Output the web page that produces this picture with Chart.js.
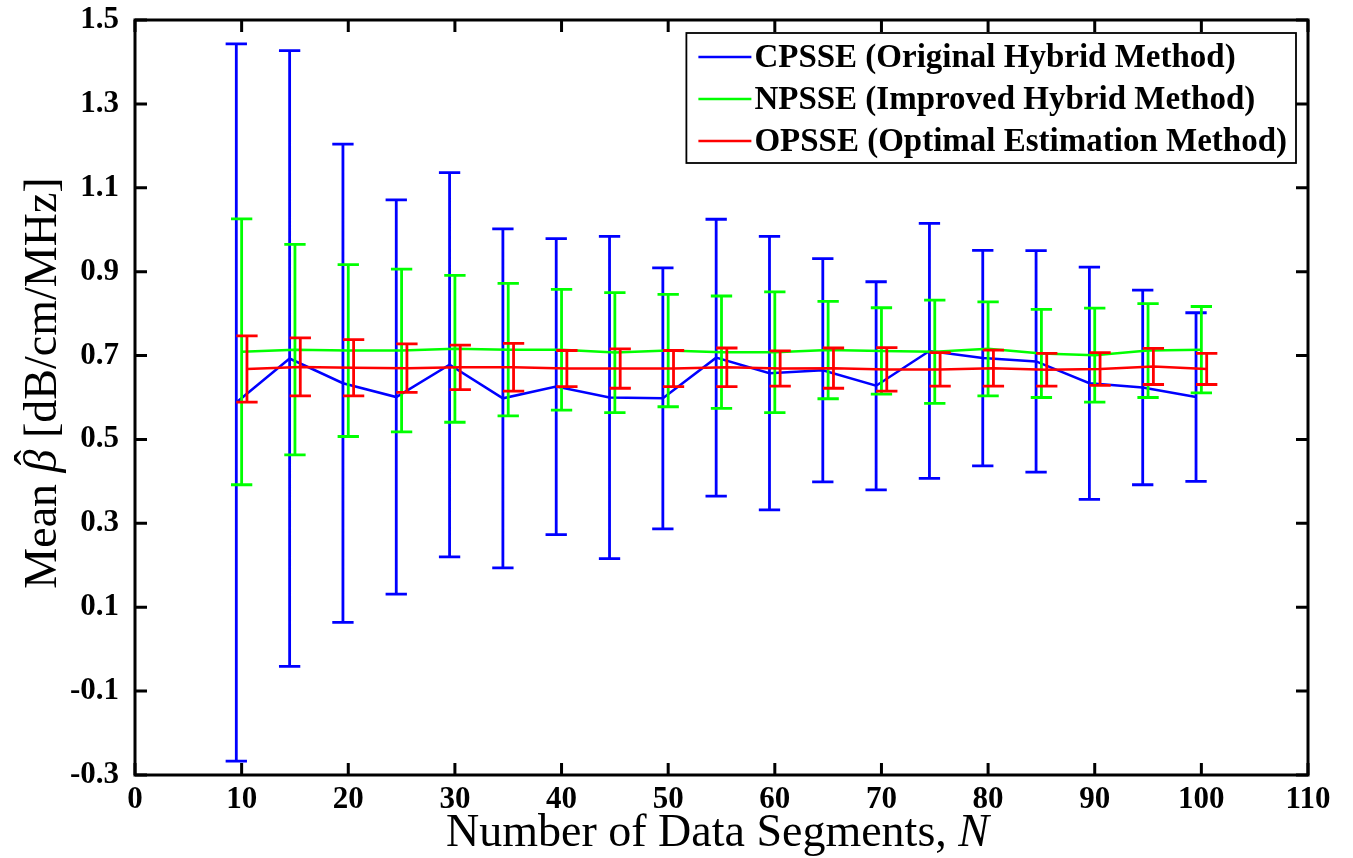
<!DOCTYPE html>
<html>
<head>
<meta charset="utf-8">
<title>Mean beta vs N</title>
<script src="https://cdn.jsdelivr.net/npm/chart.js@4.4.1/dist/chart.umd.min.js"></script>
<style>
  html, body { margin: 0; padding: 0; background: #fff; }
  #wrap { width: 1353px; height: 858px; position: relative; }
</style>
</head>
<body>
<div id="wrap"><canvas id="beta-chart"></canvas></div>
<script>
// number of data segments
const segments = [10, 15, 20, 25, 30, 35, 40, 45, 50, 55, 60, 65, 70, 75, 80, 85, 90, 95, 100];

// CPSSE (original hybrid)
const cpsseMean = [0.588, 0.693, 0.634, 0.601, 0.678, 0.598, 0.626, 0.600, 0.598, 0.695, 0.658, 0.665, 0.628, 0.711, 0.694, 0.686, 0.634, 0.624, 0.601];
const cpsseStd  = [0.855, 0.734, 0.570, 0.470, 0.458, 0.404, 0.353, 0.384, 0.311, 0.330, 0.326, 0.266, 0.248, 0.304, 0.257, 0.264, 0.277, 0.232, 0.201];

// NPSSE (improved hybrid)
const npsseMean = [0.709, 0.714, 0.712, 0.712, 0.716, 0.714, 0.714, 0.707, 0.712, 0.708, 0.708, 0.713, 0.711, 0.709, 0.716, 0.705, 0.701, 0.712, 0.714];
const npsseStd  = [0.317, 0.251, 0.205, 0.194, 0.175, 0.158, 0.144, 0.143, 0.134, 0.134, 0.144, 0.116, 0.103, 0.123, 0.112, 0.105, 0.112, 0.112, 0.103];

// OPSSE (optimal estimation)
const opsseMean = [0.668, 0.673, 0.671, 0.670, 0.672, 0.672, 0.669, 0.669, 0.669, 0.672, 0.669, 0.670, 0.667, 0.667, 0.670, 0.666, 0.668, 0.674, 0.668];
const opsseStd  = [0.079, 0.069, 0.067, 0.058, 0.053, 0.057, 0.043, 0.047, 0.043, 0.046, 0.042, 0.048, 0.052, 0.040, 0.043, 0.039, 0.039, 0.043, 0.037];

const xTicks = { min: 0, max: 110, step: 10 };
const yTicks = { min: -0.3, max: 1.5, step: 0.2 };

const SERIF = '"Liberation Serif", "Times New Roman", serif';
const CAP = 1; // half width of error bar caps, in N units

// each method is nudged sideways so the bars don't sit on top of each other
const series = (label, color, mean, sd, shift, order) => ({
  label,
  data: segments.map((n, i) => ({ x: n + shift, y: mean[i] })),
  sd,
  borderColor: color,
  backgroundColor: color,
  borderWidth: 2.5,
  pointRadius: 0,
  tension: 0,
  order,
});

const errorBars = {
  id: 'errorBars',
  afterDatasetDraw(chart, args) {
    const ds = chart.data.datasets[args.index];
    if (!ds.sd) return;
    const { ctx, scales: { x, y } } = chart;
    ctx.save();
    ctx.strokeStyle = ds.borderColor;
    ctx.lineWidth = 2.8;
    ctx.beginPath();
    ds.data.forEach((p, i) => {
      const px = x.getPixelForValue(p.x);
      const l = x.getPixelForValue(p.x - CAP);
      const r = x.getPixelForValue(p.x + CAP);
      const lo = y.getPixelForValue(p.y - ds.sd[i]);
      const hi = y.getPixelForValue(p.y + ds.sd[i]);
      ctx.moveTo(px, lo); ctx.lineTo(px, hi);
      ctx.moveTo(l, lo); ctx.lineTo(r, lo);
      ctx.moveTo(l, hi); ctx.lineTo(r, hi);
    });
    ctx.stroke();
    ctx.restore();
  }
};

// box round the plot with ticks pointing inwards on all four sides
const frame = {
  id: 'frame',
  afterDraw(chart) {
    const { ctx, chartArea: a, scales: { x, y } } = chart;
    const len = 12;
    ctx.save();
    ctx.strokeStyle = '#000';
    ctx.lineWidth = 3;
    ctx.beginPath();
    x.ticks.forEach(t => {
      const px = x.getPixelForValue(t.value);
      ctx.moveTo(px, a.bottom); ctx.lineTo(px, a.bottom - len);
      ctx.moveTo(px, a.top); ctx.lineTo(px, a.top + len);
    });
    y.ticks.forEach(t => {
      const py = y.getPixelForValue(t.value);
      ctx.moveTo(a.left, py); ctx.lineTo(a.left + len, py);
      ctx.moveTo(a.right, py); ctx.lineTo(a.right - len, py);
    });
    ctx.stroke();
    ctx.strokeRect(a.left, a.top, a.right - a.left, a.bottom - a.top);
    ctx.restore();
  }
};

// axis titles (mixed italic) and the boxed legend
const labels = {
  id: 'labels',
  afterDraw(chart) {
    const { ctx, chartArea: a } = chart;
    const size = 46;
    const roman = `${size}px ${SERIF}`;
    const italic = `italic ${size}px ${SERIF}`;
    ctx.save();
    ctx.fillStyle = '#000';
    ctx.textBaseline = 'alphabetic';

    // x title
    const xa = 'Number of Data Segments, ';
    const xb = 'N';
    ctx.font = roman; const wa = ctx.measureText(xa).width;
    ctx.font = italic; const wb = ctx.measureText(xb).width;
    let cx = (a.left + a.right) / 2 - (wa + wb) / 2 - 4;
    ctx.font = roman; ctx.fillText(xa, cx, 846);
    ctx.font = italic; ctx.fillText(xb, cx + wa, 846);

    // y title, read bottom to top
    const ya = 'Mean ', yb = '\u03B2', yc = ' [dB/cm/MHz]';
    ctx.font = roman; const w1 = ctx.measureText(ya).width, w3 = ctx.measureText(yc).width;
    ctx.font = italic; const w2 = ctx.measureText(yb).width;
    ctx.translate(56, 383);
    ctx.rotate(-Math.PI / 2);
    let sx = -(w1 + w2 + w3) / 2;
    ctx.font = roman; ctx.fillText(ya, sx, 0);
    ctx.font = italic; ctx.fillText(yb, sx + w1, 0);
    ctx.font = roman;
    const hat = '\u02C6';
    const wh = ctx.measureText(hat).width;
    ctx.fillText(hat, sx + w1 + w2 / 2 - wh / 2 + 3, -size * 0.2);
    ctx.fillText(yc, sx + w1 + w2, 0);
    ctx.restore();

    // legend
    ctx.save();
    ctx.font = `bold 33px ${SERIF}`;
    const items = chart.data.datasets;
    const textW = Math.max(...items.map(d => ctx.measureText(d.label).width));
    const boxW = 68 + textW + 9;
    const boxH = 130;
    const bx = a.right - 12 - boxW;
    const by = a.top + 13;
    ctx.fillStyle = '#fff';
    ctx.fillRect(bx, by, boxW, boxH);
    ctx.strokeStyle = '#000';
    ctx.lineWidth = 1.8;
    ctx.strokeRect(bx, by, boxW, boxH);
    ctx.textBaseline = 'middle';
    items.forEach((d, i) => {
      const ry = by + 24 + i * 42;
      ctx.strokeStyle = d.borderColor;
      ctx.lineWidth = 2.5;
      ctx.beginPath();
      ctx.moveTo(bx + 12, ry); ctx.lineTo(bx + 65, ry);
      ctx.stroke();
      ctx.fillStyle = '#000';
      ctx.fillText(d.label, bx + 68, ry + 1);
    });
    ctx.restore();
  }
};

const tickFont = { family: SERIF, size: 31, weight: 'bold' };

new Chart(document.getElementById('beta-chart'), {
  type: 'line',
  data: {
    datasets: [
      series('CPSSE (Original Hybrid Method)', '#0000ff', cpsseMean, cpsseStd, -0.5, 3),
      series('NPSSE (Improved Hybrid Method)', '#00ff00', npsseMean, npsseStd, 0, 2),
      series('OPSSE (Optimal Estimation Method)', '#ff0000', opsseMean, opsseStd, 0.5, 1),
    ]
  },
  options: {
    responsive: true,
    maintainAspectRatio: false,
    animation: false,
    layout: { padding: { left: 0, top: 20, right: 45, bottom: 0 } },
    plugins: { legend: { display: false }, tooltip: { enabled: false } },
    scales: {
      x: {
        type: 'linear',
        min: xTicks.min, max: xTicks.max,
        grid: { display: false, drawTicks: false },
        border: { display: false },
        ticks: { stepSize: xTicks.step, color: '#000', font: tickFont, padding: 6, maxRotation: 0 },
        afterFit: s => { s.height = 83; }
      },
      y: {
        min: yTicks.min, max: yTicks.max,
        grid: { display: false, drawTicks: false },
        border: { display: false },
        ticks: { stepSize: yTicks.step, color: '#000', font: tickFont, padding: 16,
                 callback: v => v.toFixed(1) },
        afterFit: s => { s.width = 135; s.paddingTop = 0; s.paddingBottom = 0; }
      }
    }
  },
  plugins: [errorBars, frame, labels]
});
</script>
</body>
</html>
